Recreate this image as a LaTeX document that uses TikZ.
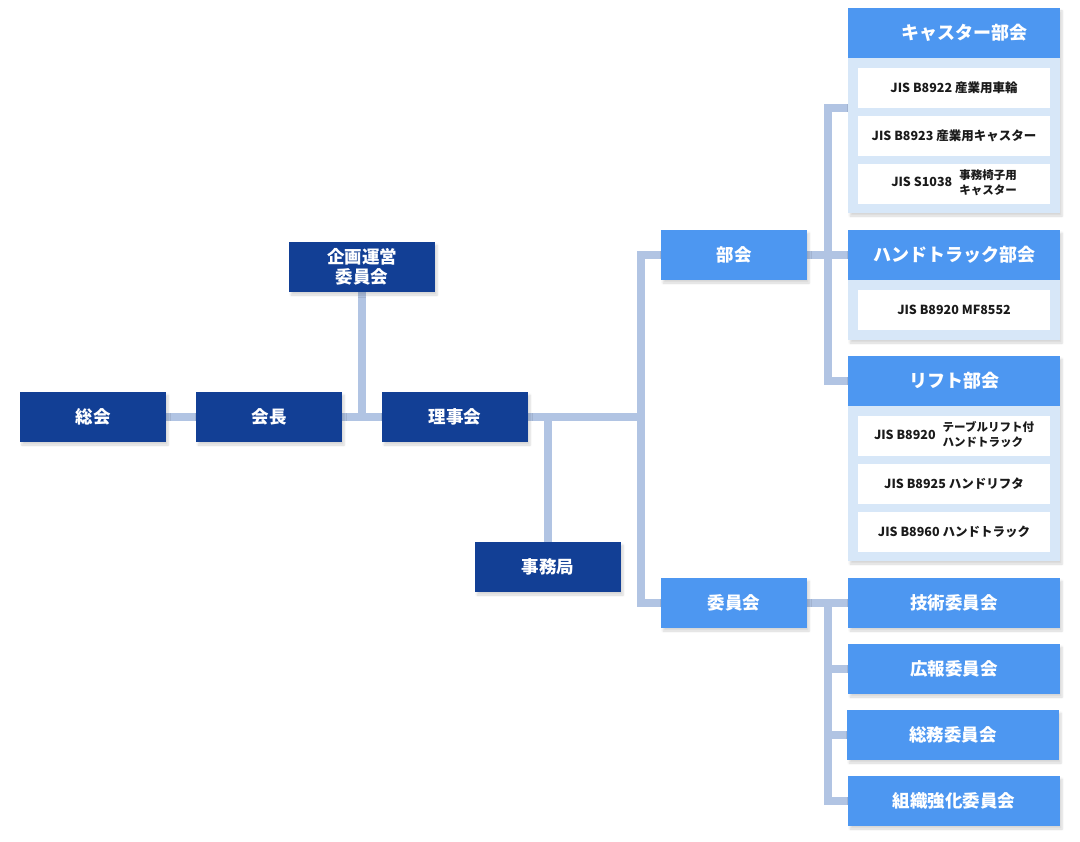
\documentclass[tikz,border=0pt]{standalone}
\usepackage{fontspec}
\setmainfont{Noto Sans CJK JP}
\usetikzlibrary{shadows.blur}
\definecolor{navy}{HTML}{123F95}
\definecolor{sky}{HTML}{4D97F1}
\definecolor{panelcol}{HTML}{D7E7F8}
\definecolor{linecol}{HTML}{B1C4E3}
\definecolor{ink}{HTML}{1A1A1A}
\pgfdeclarelayer{bg}
\pgfsetlayers{bg,main}
\begin{document}
\begin{tikzpicture}[x=1pt,y=-1pt,
  shad/.style={blur shadow={shadow xshift=2pt,shadow yshift=-3pt,shadow blur steps=6,shadow opacity=16}},
  box/.style={minimum width=146pt,minimum height=50pt,inner sep=0pt,text=white,
    font=\fontsize{17.5}{20}\selectfont\bfseries,align=center},
  dark/.style={box,fill=navy,shad},
  light/.style={box,fill=sky,shad},
  head/.style={box,fill=sky,minimum width=212pt,font=\fontsize{18}{20}\selectfont\bfseries},
  group/.style={fill=panelcol,inner sep=0pt,minimum width=212pt,shad},
  item/.style={fill=white,minimum width=192pt,minimum height=40pt,inner sep=0pt,text=ink,
    font=\fontsize{12.5}{14}\selectfont\bfseries},
  conn/.style={draw=linecol,line width=8pt}]
\useasboundingbox (0,0) rectangle (1080,842);

% left part
\node[dark] (soukai) at (93,417) {総会};
\node[dark] (kaicho) at (269,417) {会長};
\node[dark] (rijikai) at (455,417) {理事会};
\node[dark] (kikaku) at (362,267) {企画運営\\委員会};
\node[dark] (jimu) at (548,567) {事務局};

% middle
\node[light] (bukai) at (734,255) {部会};
\node[light] (iinkai) at (734,603) {委員会};

% caster group
\node[group,minimum height=205pt] (castg) at (954,110.5) {};
\node[head] (cast) at (954,33) {\hspace*{20pt}キャスター部会};
\node[item] (c1) at (954,88) {JIS B8922 産業用車輪};
\node[item] (c2) at (954,136) {JIS B8923 産業用キャスター};
\node[item] (c3) at (954,184) {JIS S1038\hspace{7pt}{\fontsize{11.5}{15}\selectfont\begin{tabular}{@{}l@{}}事務椅子用\\キャスター\end{tabular}}};

% hand truck group
\node[group,minimum height=110pt] (handg) at (954,285) {};
\node[head] (hand) at (954,255) {ハンドトラック部会};
\node[item] (h1) at (954,310) {JIS B8920 MF8552};

% lift group
\node[group,minimum height=205pt] (liftg) at (954,458.5) {};
\node[head] (lift) at (954,381) {リフト部会};
\node[item] (l1) at (954,436) {JIS B8920\hspace{7pt}{\fontsize{11.5}{15}\selectfont\begin{tabular}{@{}l@{}}テーブルリフト付\\ハンドトラック\end{tabular}}};
\node[item] (l2) at (954,484) {JIS B8925 ハンドリフタ};
\node[item] (l3) at (954,532) {JIS B8960 ハンドトラック};

% committees
\node[light,minimum width=212pt] (giju) at (954,603) {技術委員会};
\node[light,minimum width=212pt] (koho) at (954,669) {広報委員会};
\node[light,minimum width=212pt] (somu) at (953,735) {総務委員会};
\node[light,minimum width=212pt] (soshiki) at (954,801) {組織強化委員会};

\coordinate (ta) at (641,417);
\coordinate (cj) at (848,108);
\coordinate (tb) at (828,255);
\coordinate (tc) at (828,603);

\begin{pgfonlayer}{bg}
\draw[conn] (soukai.east) -- (kaicho.west);
\draw[conn] (kaicho.east) -- (rijikai.west);
\draw[conn] (kikaku.south) -- (kikaku.south |- kaicho.east);
\draw[conn] (rijikai.east) -- (ta);
\draw[conn] (bukai.west) -| (ta) |- (iinkai.west);
\draw[conn] (jimu.north) -- (jimu.north |- rijikai.east);
\draw[conn] (bukai.east) -- (hand.west);
\draw[conn] (cj) -| (tb) |- (lift.west);
\draw[conn] (iinkai.east) -- (giju.west);
\draw[conn] (tc) |- (soshiki.west);
\draw[conn] (koho.west) -- (koho.west -| tc);
\draw[conn] (somu.west) -- (somu.west -| tc);
\end{pgfonlayer}
\end{tikzpicture}
\end{document}
